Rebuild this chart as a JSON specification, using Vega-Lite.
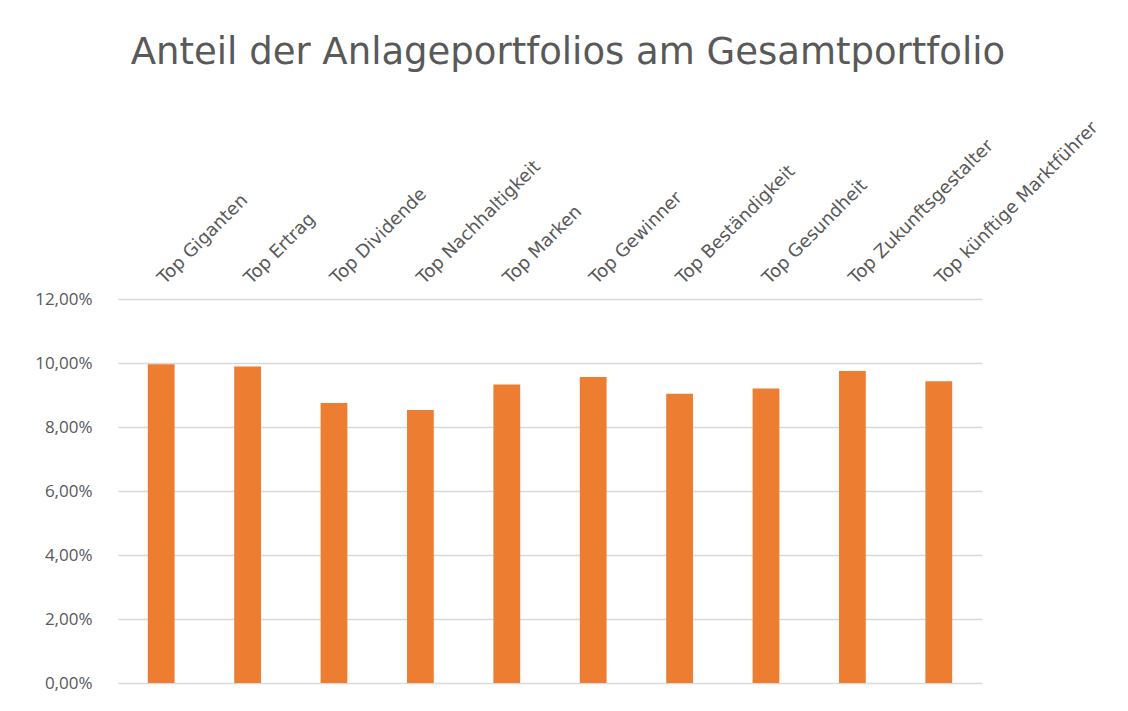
{
  "$schema": "https://vega.github.io/schema/vega-lite/v6.json",
  "autosize": {"type": "none"},
  "width": 864,
  "height": 384,
  "padding": {"left": 118, "top": 299, "right": 146, "bottom": 28},
  "background": "white",
  "title": {
    "text": "Anteil der Anlageportfolios am Gesamtportfolio",
    "font": "DejaVu Sans",
    "fontSize": 37,
    "fontWeight": "normal",
    "color": "#595959",
    "anchor": "middle",
    "dx": 18,
    "offset": 46
  },
  "data": {
    "values": [
      {"portfolio": "Top Giganten", "anteil": 0.0996},
      {"portfolio": "Top Ertrag", "anteil": 0.0989},
      {"portfolio": "Top Dividende", "anteil": 0.0875},
      {"portfolio": "Top Nachhaltigkeit", "anteil": 0.0853},
      {"portfolio": "Top Marken", "anteil": 0.0933},
      {"portfolio": "Top Gewinner", "anteil": 0.0956},
      {"portfolio": "Top Beständigkeit", "anteil": 0.0904},
      {"portfolio": "Top Gesundheit", "anteil": 0.0920},
      {"portfolio": "Top Zukunftsgestalter", "anteil": 0.0975},
      {"portfolio": "Top künftige Marktführer", "anteil": 0.0943}
    ]
  },
  "mark": {"type": "bar", "color": "#ED7D31"},
  "encoding": {
    "x": {
      "field": "portfolio",
      "type": "nominal",
      "sort": null,
      "scale": {"paddingInner": 0.69, "paddingOuter": 0.345},
      "axis": {
        "orient": "top",
        "title": null,
        "domain": false,
        "ticks": false,
        "labelAngle": -45,
        "labelAlign": "left",
        "labelBaseline": "middle",
        "labelPadding": 18,
        "labelFont": "DejaVu Sans",
        "labelFontSize": 18,
        "labelColor": "#595959",
        "labelLimit": 400
      }
    },
    "y": {
      "field": "anteil",
      "type": "quantitative",
      "scale": {"domain": [0, 0.12]},
      "axis": {
        "title": null,
        "values": [0, 0.02, 0.04, 0.06, 0.08, 0.10, 0.12],
        "format": ".2%",
        "domain": false,
        "ticks": false,
        "labelPadding": 26,
        "labelFont": "Open Sans",
        "labelFontSize": 17,
        "labelColor": "#595959",
        "gridColor": "#D9D9D9",
        "gridWidth": 1.5
      }
    }
  },
  "config": {
    "view": {"stroke": null},
    "locale": {
      "number": {"decimal": ",", "thousands": ".", "grouping": [3], "currency": ["", " €"]}
    }
  }
}
